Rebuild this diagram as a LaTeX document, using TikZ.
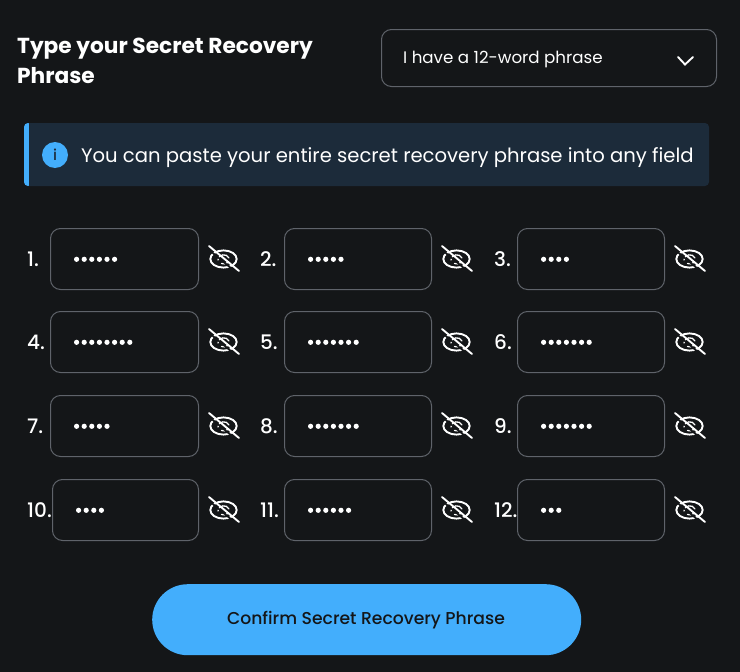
\documentclass[tikz,border=0pt]{standalone}
\usepackage{fontspec}
\setmainfont{Poppins}
\newfontfamily\medfont{Poppins Medium}
\definecolor{pagebg}{HTML}{141618}
\definecolor{edge}{HTML}{5F636A}
\definecolor{accent}{HTML}{43AEFC}
\definecolor{banner}{HTML}{1C2B3A}
\tikzset{
  x=1pt,y=-1pt,
  lbl/.style={anchor=base west,inner sep=0pt,text=white,font=\medfont\fontsize{20}{20}\selectfont},
  fieldbox/.style={draw=edge,line width=1pt,rounded corners=10pt,fill=pagebg,outer sep=0pt},
  iconline/.style={draw=white,line width=1.9pt,line cap=round},
  dotfill/.style={fill=white,draw=none}
}
\newcommand{\eyeicon}[2]{%
  \begin{scope}[shift={(#1,#2)}]
    \draw[iconline] (0,0) ellipse (13.2 and 8.6);
    \draw[iconline,line width=1.3pt] (-5.5,1) .. controls (-5,-5) and (3,-6) .. (5.5,-1);
    \draw[iconline,line width=1.3pt] (-2,4.5) .. controls (0,5.5) and (3,5) .. (5,3);
    \draw[pagebg,line width=1.8pt] (-16.5,-10.8) -- (13.5,14.2);
    \draw[iconline] (-14.5,-13) -- (15.5,12);
  \end{scope}}
\newcommand{\wordfield}[6]{% label, labelx, boxleft, boxright, top, dots
  \node[lbl] (lb#1) at (#2,#5+38) {#1.};
  \node[fieldbox,minimum width=#4-#3-1,minimum height=61pt,inner sep=0pt,anchor=north west] (f#1) at (#3+0.5,#5+0.5) {};
  \foreach \k in {1,...,#6} \fill[dotfill] (#3+19+7.6*\k,#5+31.3) circle (2.6);
  \eyeicon{#4+24.5}{#5+31}
}
\begin{document}
\begin{tikzpicture}
\useasboundingbox (0,0) rectangle (740,672);
\fill[pagebg] (0,0) rectangle (740,672);
\node[anchor=base west,inner sep=0pt,text=white,font=\fontsize{21.7}{21.7}\selectfont\bfseries] (t1) at (17,53.5) {Type your Secret Recovery};
\node[anchor=base west,inner sep=0pt,text=white,font=\fontsize{21.7}{21.7}\selectfont\bfseries] (t2) at (17,83.5) {Phrase};
\node[fieldbox,minimum width=335pt,minimum height=57pt,inner sep=0pt,anchor=north west] (dd) at (381.5,29.5) {};
\node[anchor=base west,inner sep=0pt,text=white,font=\fontsize{16.7}{16.7}\selectfont] (ddt) at (403,63) {I have a 12-word phrase};
\coordinate (c1) at (678,57);\coordinate (c2) at (685,64.5);\coordinate (c3) at (693,57);
\draw[iconline] (c1) -- (c2) -- (c3);
\fill[banner,rounded corners=4pt] (24,123) rectangle (709,186);
\fill[accent,rounded corners=4pt] (24,123) rectangle (32,186);
\fill[banner] (29,123) rectangle (36,186);
\node[circle,fill=accent,minimum size=26pt,inner sep=0pt,text=banner,font=\medfont\fontsize{15}{15}\selectfont] (inf) at (55,155) {i};
\node[anchor=base west,inner sep=0pt,text=white,font=\fontsize{19.6}{19.6}\selectfont] (bt) at (81,162) {You can paste your entire secret recovery phrase into any field};
\wordfield{1}{27}{50}{199}{228}{6}
\wordfield{2}{260}{284}{432}{228}{5}
\wordfield{3}{494}{517}{665}{228}{4}
\wordfield{4}{27}{50}{199}{311}{8}
\wordfield{5}{260}{284}{432}{311}{7}
\wordfield{6}{494}{517}{665}{311}{7}
\wordfield{7}{27}{50}{199}{395}{5}
\wordfield{8}{260}{284}{432}{395}{7}
\wordfield{9}{494}{517}{665}{395}{7}
\wordfield{10}{27}{52}{199}{479}{4}
\wordfield{11}{260}{284}{432}{479}{6}
\wordfield{12}{494}{517}{665}{479}{3}
\node[fill=accent,rounded corners=35.5pt,minimum width=429pt,minimum height=71pt,inner sep=0pt,anchor=north west] (btn) at (152,584) {};
\node[text=pagebg,inner sep=0pt,font=\medfont\fontsize{17.2}{17.2}\selectfont] (btnt) at (366,620) {Confirm Secret Recovery Phrase};
\end{tikzpicture}
\end{document}
